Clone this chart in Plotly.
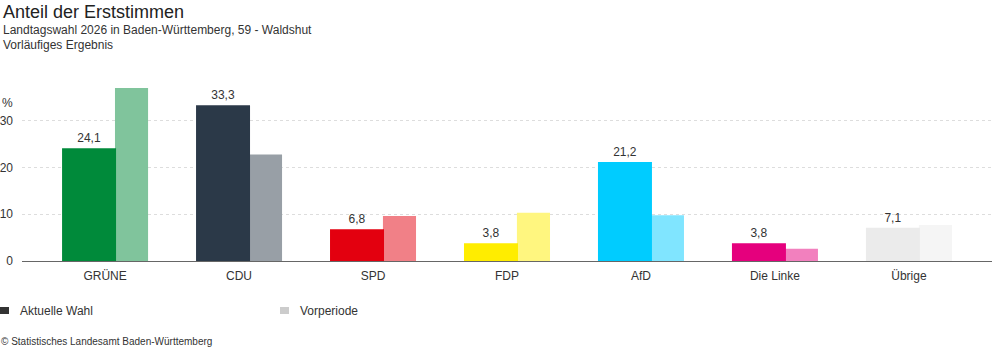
import plotly.graph_objects as go

parties = ["GRÜNE", "CDU", "SPD", "FDP", "AfD", "Die Linke", "Übrige"]
current = [24.1, 33.3, 6.8, 3.8, 21.2, 3.8, 7.1]
previous = [37.0, 22.8, 9.6, 10.3, 9.8, 2.6, 7.7]
colors_current = ["#008A3A", "#2B3948", "#E3000F", "#FFED00", "#00CCFF", "#E5007D", "#EBEBEB"]
colors_previous = ["#80C49C", "#989FA6", "#F18087", "#FFF67F", "#80E5FF", "#F280BE", "#F5F5F5"]
y_ticks = [0, 10, 20, 30]

FONT = "Liberation Sans, Arial, Helvetica, sans-serif"
TXT = "#333333"

W, H = 992, 352
ML, MR, MT, MB = 22, 0, 74, 91
PW = W - ML - MR
PH = H - MT - MB

fig = go.Figure()
fig.add_trace(go.Bar(
    x=parties, y=previous, name="Vorperiode",
    marker=dict(color=colors_previous, line=dict(width=0)),
    offset=0.074, width=0.247, hoverinfo="x+y", showlegend=False,
))
fig.add_trace(go.Bar(
    x=parties, y=current, name="Aktuelle Wahl",
    marker=dict(color=colors_current, line=dict(width=0)),
    offset=-0.321, width=0.403,
    texttemplate="%{y:.1f}", textposition="outside", textangle=0,
    constraintext="none", cliponaxis=False,
    textfont=dict(family=FONT, size=12, color=TXT),
    hoverinfo="x+y", showlegend=False,
))

def px_x(p):
    return (p - ML) / PW

def px_y(p):
    return (H - MB - p) / PH

annotations = [
    dict(text="Anteil der Erststimmen", x=px_x(2), y=px_y(12), xanchor="left", yanchor="middle",
         font=dict(size=18, color="#222222", family=FONT)),
    dict(text="Landtagswahl 2026 in Baden-Württemberg, 59 - Waldshut", x=px_x(2), y=px_y(30),
         xanchor="left", yanchor="middle", font=dict(size=12, color=TXT, family=FONT)),
    dict(text="Vorläufiges Ergebnis", x=px_x(2), y=px_y(45), xanchor="left", yanchor="middle",
         font=dict(size=12, color=TXT, family=FONT)),
    dict(text="%", x=px_x(1), y=px_y(103), xanchor="left", yanchor="middle",
         font=dict(size=12, color=TXT, family=FONT)),
    dict(text="Aktuelle Wahl", x=px_x(19), y=px_y(311), xanchor="left", yanchor="middle",
         font=dict(size=12, color=TXT, family=FONT)),
    dict(text="Vorperiode", x=px_x(299), y=px_y(311), xanchor="left", yanchor="middle",
         font=dict(size=12, color=TXT, family=FONT)),
    dict(text="© Statistisches Landesamt Baden-Württemberg", x=px_x(0), y=px_y(341),
         xanchor="left", yanchor="middle", font=dict(size=10, color=TXT, family=FONT)),
]
for a in annotations:
    a.update(xref="paper", yref="paper", showarrow=False, borderpad=0)

shapes = [
    dict(type="rect", xref="paper", yref="paper", x0=px_x(0), x1=px_x(9), y0=px_y(314), y1=px_y(307),
         fillcolor="#333333", line=dict(width=0)),
    dict(type="rect", xref="paper", yref="paper", x0=px_x(280), x1=px_x(289), y0=px_y(314), y1=px_y(307),
         fillcolor="#CCCCCC", line=dict(width=0)),
]

fig.update_layout(
    width=W, height=H,
    margin=dict(l=ML, r=MR, t=MT, b=MB, pad=0),
    paper_bgcolor="white", plot_bgcolor="white",
    barmode="overlay",
    separators=",.",
    font=dict(family=FONT, size=12, color=TXT),
    annotations=annotations,
    shapes=shapes,
    showlegend=False,
    xaxis=dict(type="category", range=[-0.62, 6.62], showgrid=False, zeroline=False,
               showline=True, linecolor="#666666", linewidth=1, ticks="",
               tickfont=dict(size=12, color=TXT, family=FONT), ticklabelstandoff=4,
               fixedrange=True),
    yaxis=dict(range=[0, 40], tickvals=y_ticks, showgrid=True, gridcolor="#DDDDDD",
               griddash="dot", gridwidth=1, zeroline=False, showline=False, ticks="",
               tickfont=dict(size=12, color=TXT, family=FONT), ticklabelstandoff=8,
               fixedrange=True),
)

fig.write_html("out.html", config=dict(displayModeBar=False))
